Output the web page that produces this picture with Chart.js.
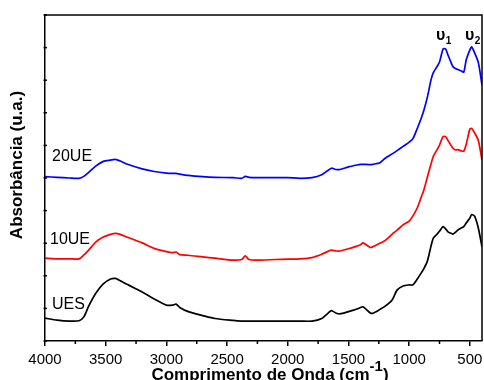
<!DOCTYPE html>
<html>
<head>
<meta charset="utf-8">
<script src="https://cdn.jsdelivr.net/npm/chart.js@4.4.1/dist/chart.umd.min.js"></script>
<style>
  html, body { margin: 0; padding: 0; background: #fff; }
  canvas { display: block; }
</style>
</head>
<body>
<canvas id="c" width="484" height="380"></canvas>
<script>
// Wavenumbers (cm-1)
const wavenumbers = [4000, 3900, 3800, 3720, 3680, 3640, 3580, 3520, 3460, 3420,
  3380, 3320, 3200, 3100, 3000, 2950, 2920, 2890, 2820, 2700,
  2600, 2450, 2380, 2350, 2320, 2250, 2100, 2000, 1900, 1800,
  1720, 1670, 1640, 1600, 1570, 1500, 1430, 1400, 1380, 1320,
  1300, 1240, 1200, 1140, 1100, 1050, 1000, 970, 930, 900,
  880, 850, 820, 800, 770, 750, 720, 700, 680, 660,
  640, 620, 600, 570, 550, 530, 500, 485, 460, 430,
  400];

// Absorbance (offset, a.u.)
const ue20 = [5.04, 5.02, 5.00, 4.99, 5.05, 5.17, 5.37, 5.51, 5.55, 5.57,
  5.52, 5.42, 5.28, 5.20, 5.15, 5.14, 5.14, 5.12, 5.08, 5.04,
  5.02, 5.01, 4.99, 5.05, 5.02, 5.01, 5.01, 5.01, 4.99, 5.01,
  5.10, 5.23, 5.30, 5.26, 5.26, 5.34, 5.40, 5.42, 5.42, 5.41,
  5.42, 5.47, 5.60, 5.74, 5.84, 5.97, 6.10, 6.20, 6.55, 6.84,
  7.06, 7.48, 8.01, 8.24, 8.42, 8.56, 8.96, 8.96, 8.77, 8.59,
  8.42, 8.36, 8.33, 8.28, 8.25, 8.62, 8.93, 9.02, 8.83, 8.54,
  7.85];

const ue10 = [2.54, 2.52, 2.52, 2.52, 2.64, 2.79, 3.04, 3.19, 3.27, 3.30,
  3.27, 3.18, 3.01, 2.84, 2.74, 2.71, 2.73, 2.65, 2.63, 2.58,
  2.54, 2.48, 2.50, 2.61, 2.50, 2.48, 2.50, 2.51, 2.52, 2.56,
  2.66, 2.75, 2.79, 2.76, 2.76, 2.83, 2.91, 2.95, 3.01, 2.87,
  2.89, 3.00, 3.08, 3.28, 3.40, 3.56, 3.68, 3.83, 4.11, 4.42,
  4.62, 5.03, 5.43, 5.67, 5.87, 6.01, 6.27, 6.27, 6.15, 6.03,
  5.92, 5.86, 5.87, 5.83, 5.82, 6.03, 6.50, 6.52, 6.38, 6.15,
  5.55];

const ues = [0.70, 0.64, 0.61, 0.62, 0.74, 1.07, 1.47, 1.75, 1.90, 1.92,
  1.85, 1.73, 1.50, 1.29, 1.10, 1.10, 1.13, 1.03, 0.90, 0.78,
  0.69, 0.63, 0.61, 0.61, 0.61, 0.61, 0.61, 0.61, 0.61, 0.61,
  0.69, 0.85, 0.93, 0.85, 0.83, 0.90, 0.98, 1.03, 1.05, 0.86,
  0.85, 0.97, 1.06, 1.26, 1.56, 1.69, 1.72, 1.72, 1.92, 2.09,
  2.21, 2.45, 2.91, 3.16, 3.28, 3.37, 3.51, 3.44, 3.35, 3.31,
  3.28, 3.33, 3.40, 3.47, 3.51, 3.62, 3.77, 3.88, 3.82, 3.46,
  2.89];

// Curve labels (name, wavenumber anchor, absorbance anchor)
const curveLabels = ['20UE', '10UE', 'UES'];
const curveLabelX = [3942, 3959, 3942];
const curveLabelY = [5.51, 2.97, 0.98];

// Band labels
const bandSub = ['1', '2'];
const bandX = [779, 540];
const bandY = [9.23, 9.23];

const xTitle = 'Comprimento de Onda (cm';
const xTitleSup = '-1';
const xTitleEnd = ')';
const yTitle = 'Absorbância (u.a.)';

const toPoints = (ys) => wavenumbers.map((w, i) => ({ x: w, y: ys[i] }));

const FONT = "'Liberation Sans', Arial, sans-serif";

const decor = {
  id: 'decor',
  afterDraw(chart) {
    const { ctx, chartArea: a, scales: { x, y } } = chart;
    ctx.save();
    ctx.strokeStyle = '#000';
    ctx.lineWidth = 1.5;
    // top and right frame
    ctx.beginPath();
    ctx.moveTo(a.left, a.top);
    ctx.lineTo(a.right, a.top);
    ctx.lineTo(a.right, a.bottom);
    ctx.stroke();
    // minor x ticks
    x.ticks.forEach(t => {
      if (t.value % 500 !== 0) {
        const px = x.getPixelForValue(t.value);
        ctx.beginPath();
        ctx.moveTo(px, a.bottom);
        ctx.lineTo(px, a.bottom + 3);
        ctx.stroke();
      }
    });
    // y ticks (small marks across the axis)
    y.ticks.forEach(t => {
      const py = y.getPixelForValue(t.value);
      ctx.beginPath();
      ctx.moveTo(a.left - 1.5, py);
      ctx.lineTo(a.left + 2, py);
      ctx.stroke();
    });

    ctx.fillStyle = '#000';
    // curve labels
    ctx.font = '16px ' + FONT;
    ctx.textAlign = 'left';
    ctx.textBaseline = 'alphabetic';
    curveLabels.forEach((s, i) => {
      ctx.fillText(s, x.getPixelForValue(curveLabelX[i]), y.getPixelForValue(curveLabelY[i]));
    });
    // band labels
    bandSub.forEach((s, i) => {
      const px = x.getPixelForValue(bandX[i]);
      const py = y.getPixelForValue(bandY[i]);
      ctx.font = 'bold 16px ' + FONT;
      ctx.fillText('\u03C5', px, py);
      const w = ctx.measureText('\u03C5').width;
      ctx.font = 'bold 10px ' + FONT;
      ctx.fillText(s, px + w + 0.5, py + 4);
    });

    // x title with superscript
    ctx.font = 'bold 17px ' + FONT;
    const w1 = ctx.measureText(xTitle).width;
    const w3 = ctx.measureText(xTitleEnd).width;
    ctx.font = 'bold 15px ' + FONT;
    const w2 = ctx.measureText(xTitleSup).width;
    const total = w1 + w2 + w3;
    let sx = 270 - total / 2;
    const base = 380;
    ctx.font = 'bold 17px ' + FONT;
    ctx.fillText(xTitle, sx, base);
    ctx.font = 'bold 15px ' + FONT;
    ctx.fillText(xTitleSup, sx + w1, base - 9);
    ctx.font = 'bold 17px ' + FONT;
    ctx.fillText(xTitleEnd, sx + w1 + w2, base);

    // y title
    ctx.save();
    ctx.translate(22, 165);
    ctx.rotate(-Math.PI / 2);
    ctx.textAlign = 'center';
    ctx.font = 'bold 17px ' + FONT;
    ctx.fillText(yTitle, 0, 0);
    ctx.restore();

    ctx.restore();
  }
};

const ds = (label, data, color) => ({
  label,
  data: toPoints(data),
  borderColor: color,
  backgroundColor: color,
  borderWidth: 1.7,
  pointRadius: 0,
  tension: 0.25,
  fill: false
});

new Chart(document.getElementById('c'), {
  type: 'line',
  data: {
    datasets: [
      ds('20UE', ue20, '#0000ff'),
      ds('10UE', ue10, '#ff0000'),
      ds('UES', ues, '#000000')
    ]
  },
  options: {
    responsive: false,
    animation: false,
    devicePixelRatio: 1,
    layout: { padding: { left: 0, right: 2, top: 15, bottom: 0 } },
    plugins: {
      legend: { display: false },
      tooltip: { enabled: false }
    },
    scales: {
      x: {
        type: 'linear',
        min: 400,
        max: 4000,
        reverse: true,
        afterFit: (s) => { s.height = 39; s.paddingLeft = 0; s.paddingRight = 0; },
        border: { color: '#000', width: 1.5 },
        grid: {
          drawOnChartArea: false,
          tickLength: 5,
          lineWidth: 1.5,
          tickColor: (c) => (c.tick && c.tick.value % 500 === 0) ? '#000' : 'rgba(0,0,0,0)'
        },
        ticks: {
          stepSize: 250,
          includeBounds: false,
          autoSkip: false,
          maxRotation: 0,
          padding: 5,
          color: '#000',
          font: { family: FONT, size: 15 },
          callback: (v) => (v % 500 === 0 ? String(v) : '')
        }
      },
      y: {
        type: 'linear',
        min: 0,
        max: 10,
        afterFit: (s) => { s.width = 45; s.paddingTop = 0; s.paddingBottom = 0; },
        border: { color: '#000', width: 1.5 },
        grid: { drawOnChartArea: false, drawTicks: false },
        ticks: { display: false, stepSize: 1 }
      }
    }
  },
  plugins: [decor]
});
</script>
</body>
</html>
